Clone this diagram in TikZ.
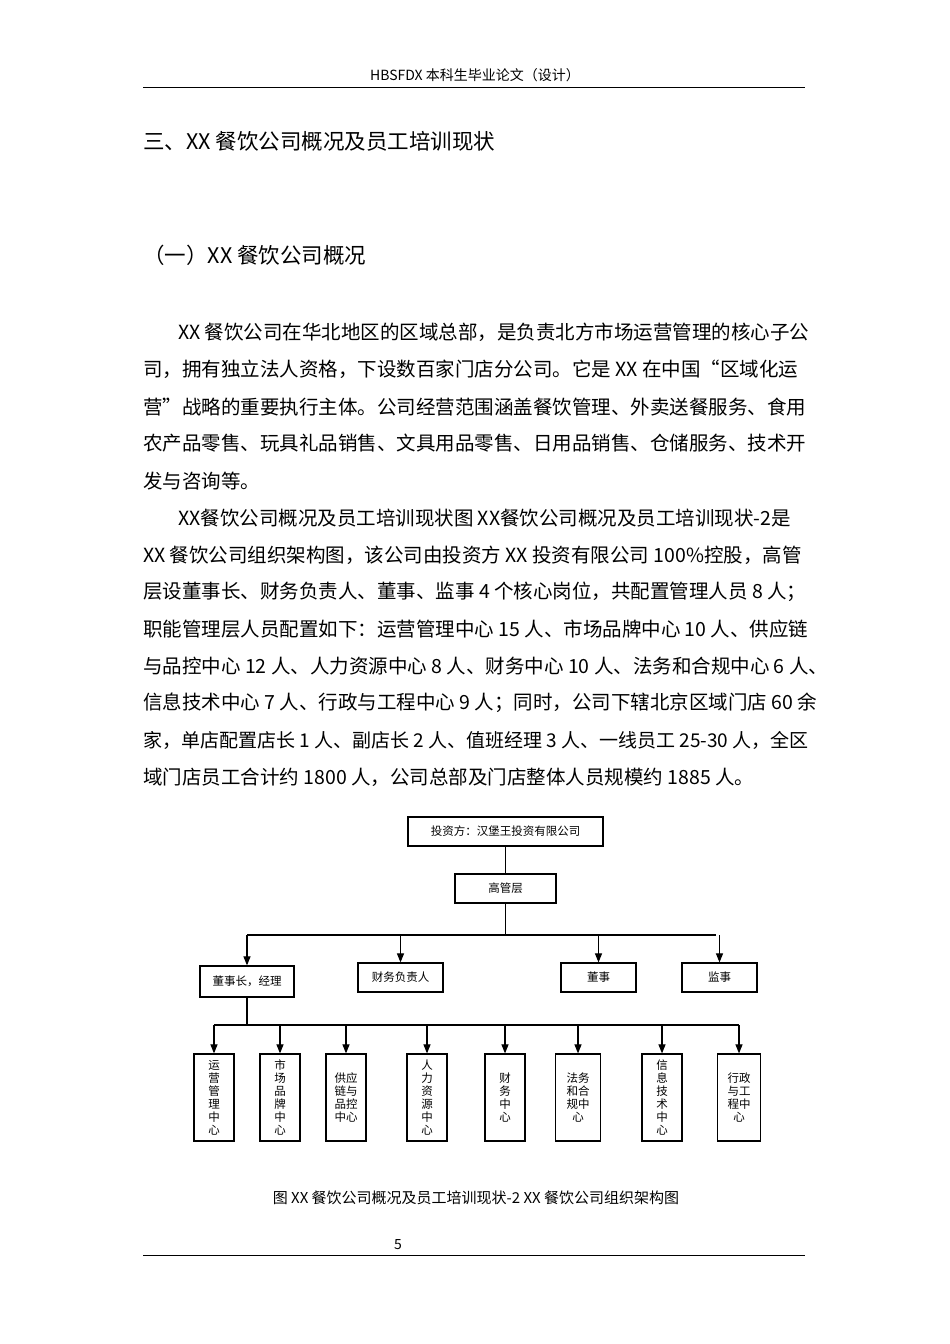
\documentclass[tikz,border=0pt]{standalone}
\usepackage{fontspec}
\setmainfont{Noto Sans CJK SC}
\usetikzlibrary{arrows.meta}
\tikzset{
 body/.style={anchor=west,inner sep=0pt,font=\fontsize{19.5}{19.5}\selectfont},
 org/.style={draw,line width=1.2pt,inner sep=0pt,font=\fontsize{11.5}{12}\selectfont},
 vbox/.style={org,minimum width=40pt,minimum height=87pt,align=center,font=\fontsize{11.5}{13}\selectfont},
 arr/.style={line width=1.1pt,-{Triangle[length=9pt,width=7pt]}},
 ln/.style={line width=1.1pt}
}
\begin{document}
\begin{tikzpicture}[x=1pt,y=-1pt]
\useasboundingbox[fill=white] (0,0) rectangle (950,1344);
\node (hdr) at (475,75) {\fontsize{14}{14}\selectfont HBSFDX 本科生毕业论文（设计）};
\draw[line width=0.8pt] (143,87) -- (805,87);
\node[body,font=\fontsize{21.5}{21.5}\selectfont] (t1) at (143,141) {三、XX 餐饮公司概况及员工培训现状};
\node[body,font=\fontsize{21.5}{21.5}\selectfont] (t2) at (143,255) {（一）XX 餐饮公司概况};
\node[body] (l1) at (178,332) {XX 餐饮公司在华北地区的区域总部，是负责北方市场运营管理的核心子公};
\node[body] (l2) at (143,369) {司，拥有独立法人资格，下设数百家门店分公司。它是 XX 在中国“区域化运};
\node[body] (l3) at (143,407) {营”战略的重要执行主体。公司经营范围涵盖餐饮管理、外卖送餐服务、食用};
\node[body] (l4) at (143,443) {农产品零售、玩具礼品销售、文具用品零售、日用品销售、仓储服务、技术开};
\node[body] (l5) at (143,481) {发与咨询等。};
\node[body] (l6) at (178,518) {XX餐饮公司概况及员工培训现状图 XX餐饮公司概况及员工培训现状-2是};
\node[body] (l7) at (143,555) {XX 餐饮公司组织架构图，该公司由投资方 XX 投资有限公司 100\symbol{37}控股，高管};
\node[body] (l8) at (143,592) {层设董事长、财务负责人、董事、监事 4 个核心岗位，共配置管理人员 8 人；};
\node[body] (l9) at (143,629) {职能管理层人员配置如下：运营管理中心 15 人、市场品牌中心 10 人、供应链};
\node[body] (l10) at (143,666) {与品控中心 12 人、人力资源中心 8 人、财务中心 10 人、法务和合规中心 6 人、};
\node[body] (l11) at (143,703) {信息技术中心 7 人、行政与工程中心 9 人；同时，公司下辖北京区域门店 60 余};
\node[body,font=\fontsize{19}{19}\selectfont] (l12) at (143,740) {家，单店配置店长 1 人、副店长 2 人、值班经理 3 人、一线员工 25-30 人，全区};
\node[body] (l13) at (143,777) {域门店员工合计约 1800 人，公司总部及门店整体人员规模约 1885 人。};
\node[org,minimum width=195pt,minimum height=29pt] (inv) at (505.5,831.5) {投资方：汉堡王投资有限公司};
\node[org,minimum width=101pt,minimum height=29pt] (gg) at (505.5,888.5) {高管层};
\node[org,minimum width=94pt,minimum height=31pt] (dsz) at (247,981.5) {董事长，经理};
\node[org,minimum width=85pt,minimum height=29pt] (cw) at (400.5,977.5) {财务负责人};
\node[org,minimum width=75pt,minimum height=29pt] (ds) at (598.5,977.5) {董事};
\node[org,minimum width=75pt,minimum height=29pt] (js) at (719.5,977.5) {监事};
\draw[ln] (inv) -- (gg);
\coordinate (b1) at (505.5,935);
\draw[ln] (gg) -- (b1);
\draw[ln] (247,935) -- (716,935);
\foreach \n in {dsz,cw,ds,js}{\draw[arr] (\n.north |- b1) -- (\n.north);}
\node[vbox] (c1) at (214,1097.5) {运\\营\\管\\理\\中\\心};
\node[vbox] (c2) at (280,1097.5) {市\\场\\品\\牌\\中\\心};
\node[vbox] (c3) at (346,1097.5) {供应\\链与\\品控\\中心};
\node[vbox] (c4) at (427,1097.5) {人\\力\\资\\源\\中\\心};
\node[vbox] (c5) at (505,1097.5) {财\\务\\中\\心};
\node[vbox,minimum width=45pt] (c6) at (578,1097.5) {法务\\和合\\规中\\心};
\node[vbox] (c7) at (662,1097.5) {信\\息\\技\\术\\中\\心};
\node[vbox,minimum width=43pt] (c8) at (739,1097.5) {行政\\与工\\程中\\心};
\coordinate (b2) at (247,1025);
\draw[ln] (dsz) -- (b2);
\draw[ln] (214,1025) -- (739,1025);
\foreach \n in {c1,c2,c3,c4,c5,c6,c7,c8}{\draw[arr] (\n.north |- b2) -- (\n.north);}
\node (cap) at (476,1198) {\fontsize{15}{15}\selectfont 图 XX 餐饮公司概况及员工培训现状-2 XX 餐饮公司组织架构图};
\node (pg) at (398,1245) {\fontsize{14}{14}\selectfont 5};
\draw[line width=0.8pt] (143,1255) -- (805,1255);
\end{tikzpicture}
\end{document}
